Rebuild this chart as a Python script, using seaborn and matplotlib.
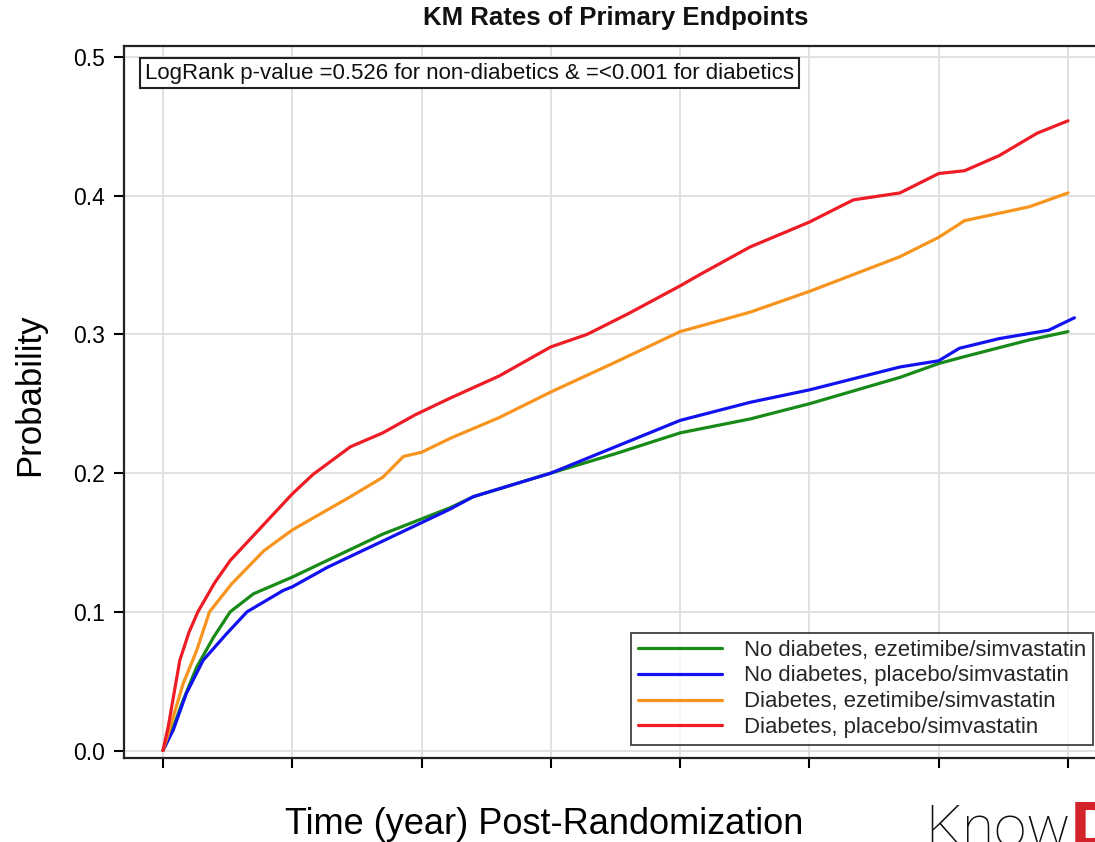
import numpy as np
import pandas as pd
import matplotlib
matplotlib.use("Agg")
import matplotlib.pyplot as plt
import seaborn as sns

# ---------------- data ----------------
groups = ["No diabetes, ezetimibe/simvastatin",
          "No diabetes, placebo/simvastatin",
          "Diabetes, ezetimibe/simvastatin",
          "Diabetes, placebo/simvastatin"]

t_green = [0, 0.08, 0.155, 0.26, 0.39, 0.52, 0.7, 1.0, 1.27, 1.7, 2.22, 2.4, 3.0, 3.5, 4.0, 4.54, 5.0, 5.7, 6.0, 6.2, 6.7, 7.0]
p_green = [0, 0.017, 0.036, 0.06, 0.0815, 0.1, 0.113, 0.125, 0.137, 0.156, 0.175, 0.183, 0.2, 0.214, 0.229, 0.239, 0.250, 0.269, 0.279, 0.284, 0.296, 0.302]

t_blue = [0, 0.08, 0.18, 0.31, 0.49, 0.65, 0.93, 1.0, 1.27, 1.7, 2.22, 2.4, 3.0, 3.5, 4.0, 4.54, 5.0, 5.7, 6.0, 6.16, 6.47, 6.85, 7.05]
p_blue = [0, 0.015, 0.041, 0.065, 0.084, 0.1, 0.1154, 0.118, 0.132, 0.151, 0.174, 0.183, 0.2, 0.219, 0.238, 0.251, 0.260, 0.2765, 0.281, 0.290, 0.297, 0.303, 0.312]

t_orange = [0, 0.04, 0.155, 0.26, 0.36, 0.53, 0.78, 1.0, 1.45, 1.7, 1.86, 2.0, 2.22, 2.6, 3.0, 3.5, 4.0, 4.54, 5.0, 5.7, 6.0, 6.2, 6.7, 7.0]
p_orange = [0, 0.012, 0.048, 0.072, 0.1, 0.12, 0.144, 0.159, 0.183, 0.197, 0.212, 0.215, 0.225, 0.24, 0.2585, 0.28, 0.302, 0.316, 0.331, 0.356, 0.370, 0.382, 0.392, 0.402]

t_red = [0, 0.04, 0.13, 0.2, 0.27, 0.4, 0.52, 0.7, 0.85, 1.0, 1.16, 1.45, 1.7, 1.95, 2.22, 2.6, 3.0, 3.28, 3.6, 4.0, 4.15, 4.54, 5.0, 5.34, 5.7, 6.0, 6.2, 6.47, 6.76, 7.0]
p_red = [0, 0.017, 0.065, 0.085, 0.1, 0.121, 0.137, 0.155, 0.17, 0.185, 0.199, 0.219, 0.229, 0.242, 0.254, 0.27, 0.291, 0.3, 0.315, 0.335, 0.343, 0.363, 0.381, 0.397, 0.402, 0.416, 0.418, 0.429, 0.445, 0.454]

colors = ["#178a17", "#1212f0", "#f7941e", "#ee1c24"]

x_ticks = [0, 1, 2, 3, 4, 5, 6, 7]
y_ticks = [0.0, 0.1, 0.2, 0.3, 0.4, 0.5]
y_tick_labels = ["0.0", "0.1", "0.2", "0.3", "0.4", "0.5"]

title = "KM Rates of Primary Endpoints"
x_label = "Time (year) Post-Randomization"
y_label = "Probability"
note = "LogRank p-value =0.526 for non-diabetics & =<0.001 for diabetics"

# ---------------- build long table ----------------
frames = []
for g, t, p in zip(groups, [t_green, t_blue, t_orange, t_red], [p_green, p_blue, p_orange, p_red]):
    frames.append(pd.DataFrame({"time": t, "prob": p, "group": g}))
df = pd.concat(frames, ignore_index=True)

# ---------------- figure ----------------
sns.set_style("white")
plt.rcParams["font.family"] = ["Liberation Sans", "DejaVu Sans"]

W, H = 1095, 842
fig = plt.figure(figsize=(W / 100, H / 100), dpi=100)
ax_left, ax_right, ax_top, ax_bottom = 124, 1100, 46, 758
ax = fig.add_axes([ax_left / W, 1 - ax_bottom / H, (ax_right - ax_left) / W, (ax_bottom - ax_top) / H])

sns.lineplot(data=df, x="time", y="prob", hue="group", hue_order=groups,
             palette=colors, linewidth=2.3, estimator=None, sort=False, ax=ax)

# axis ranges: 0 yr at px 163, 7 yr at px 1068; 0.0 at px 750.5, 0.5 at px 57
px_per_yr = (1068 - 163) / 7
ax.set_xlim((ax_left - 163) / px_per_yr, (ax_right - 163) / px_per_yr)
px_per_unit = (750.5 - 57) / 0.5
ax.set_ylim(-(ax_bottom - 750.5) / px_per_unit, 0.5 + (57 - ax_top) / px_per_unit)

ax.set_xticks(x_ticks)
ax.set_xticklabels([])
ax.set_yticks(y_ticks)
ax.set_yticklabels(y_tick_labels)
ax.tick_params(axis="both", direction="out", length=7.5, width=1.5, colors="black",
               labelsize=16.5, pad=6.5, left=True, bottom=True)
ax.grid(True, color="#dedede", linewidth=1.3)
ax.set_axisbelow(True)
for side in ["left", "bottom", "top"]:
    ax.spines[side].set_visible(True)
    ax.spines[side].set_color("#222222")
    ax.spines[side].set_linewidth(1.6)
ax.spines["right"].set_visible(False)
ax.set_xlabel("")
ax.set_ylabel("")

# legend
leg = ax.legend(loc="upper left",
                bbox_to_anchor=((631 - ax_left) / (ax_right - ax_left), 1 - (633 - ax_top) / (ax_bottom - ax_top)),
                fontsize=15.9, frameon=True, fancybox=False, edgecolor="#222222",
                handlelength=3.8, handletextpad=1.0, labelspacing=0.22,
                borderpad=0.3, borderaxespad=0.0)
leg.get_frame().set_linewidth(1.4)
for h in leg.get_lines():
    h.set_linewidth(2.3)

# annotation box
ax.text((145 - ax_left) / (ax_right - ax_left), 1 - (73 - ax_top) / (ax_bottom - ax_top), note,
        transform=ax.transAxes, ha="left", va="center", fontsize=16, color="#111111",
        bbox=dict(boxstyle="square,pad=0.22", facecolor="white", edgecolor="#222222", linewidth=1.5))

# titles / labels
fig.text(616 / W, 1 - 25 / H, title, ha="center", va="baseline", fontsize=18.5, fontweight="bold",
         color="#111111")
fig.text(544 / W, 1 - 834 / H, x_label, ha="center", va="baseline", fontsize=26, color="black")
fig.text(30 / W, 1 - 395 / H, y_label, ha="center", va="center", rotation=90, fontsize=25, color="black")

# logo
fig.text(925 / W, 1 - 846 / H, "Know", ha="left", va="baseline", fontsize=42,
         family=["Roboto", "DejaVu Sans"], fontweight="light", color="#111111")
fig.text(1071 / W, 1 - 846 / H, "D", ha="left", va="baseline", fontsize=44,
         family=["Lato", "DejaVu Sans"], fontweight="heavy", color="#d2232a")

fig.savefig("out.png", dpi=100)
